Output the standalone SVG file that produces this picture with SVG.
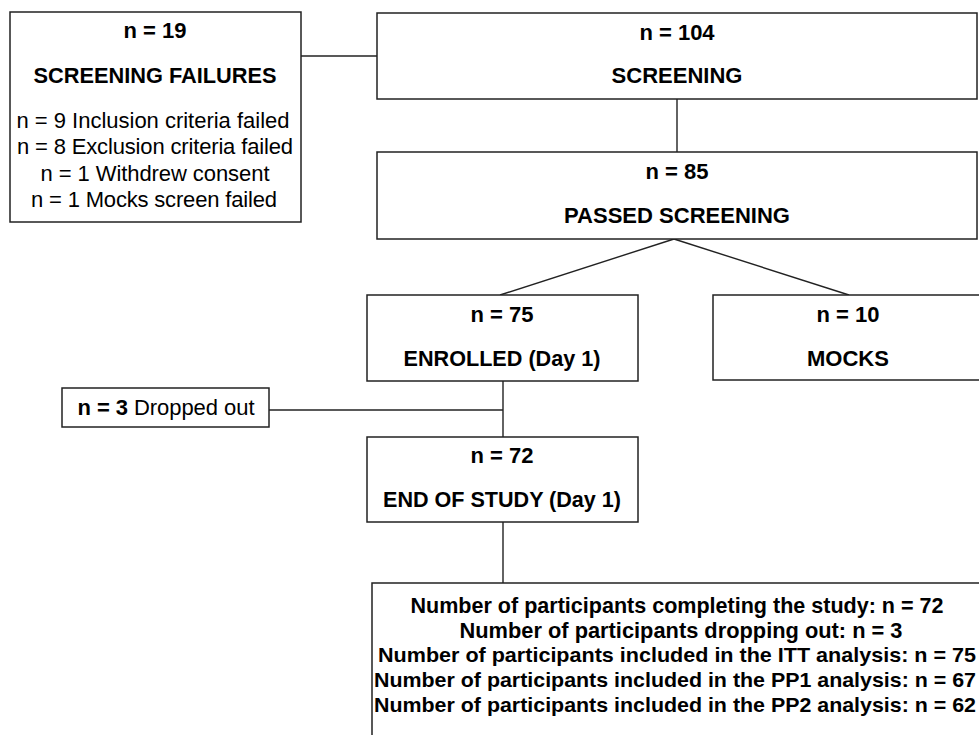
<svg xmlns="http://www.w3.org/2000/svg" width="979" height="735" viewBox="0 0 979 735">
<style>
.box{fill:#fff;stroke:#222;stroke-width:1.5}
.ln{stroke:#222;stroke-width:1.4;fill:none}
text{font-family:"Liberation Sans",Arial,sans-serif;font-size:22px;fill:#000;text-anchor:middle}
.b{font-weight:bold}
.s{font-size:21px}
</style>
<rect width="979" height="735" fill="#fff"/>
<g id="connectors">
<line class="ln" x1="301" y1="56" x2="377" y2="56"/>
<line class="ln" x1="677" y1="99" x2="677" y2="152"/>
<line class="ln" x1="674" y1="239" x2="500" y2="295"/>
<line class="ln" x1="674" y1="239" x2="849" y2="295"/>
<line class="ln" x1="503" y1="381" x2="503" y2="437"/>
<line class="ln" x1="269" y1="410" x2="503" y2="410"/>
<line class="ln" x1="503" y1="522" x2="503" y2="583"/>
</g>
<g id="screening-failures">
<rect class="box" x="10" y="12" width="291" height="210"/>
<text class="b" x="155" y="38">n = 19</text>
<text class="b" x="155" y="83" textLength="243" lengthAdjust="spacingAndGlyphs">SCREENING FAILURES</text>
<text x="153" y="128" textLength="273">n = 9 Inclusion criteria failed</text>
<text x="155" y="154" textLength="276">n = 8 Exclusion criteria failed</text>
<text x="155" y="181" textLength="229">n = 1 Withdrew consent</text>
<text x="154" y="207" textLength="246">n = 1 Mocks screen failed</text>
</g>
<g id="screening">
<rect class="box" x="377" y="13" width="600" height="86"/>
<text class="b" x="677" y="40">n = 104</text>
<text class="b" x="677" y="83">SCREENING</text>
</g>
<g id="passed-screening">
<rect class="box" x="377" y="152" width="600" height="87"/>
<text class="b" x="677" y="179">n = 85</text>
<text class="b" x="677" y="223" textLength="226" lengthAdjust="spacingAndGlyphs">PASSED SCREENING</text>
</g>
<g id="enrolled">
<rect class="box" x="367" y="295" width="271" height="86"/>
<text class="b" x="502" y="322">n = 75</text>
<text class="b" x="502" y="366" textLength="197" lengthAdjust="spacingAndGlyphs">ENROLLED (Day 1)</text>
</g>
<g id="mocks">
<rect class="box" x="713" y="295" width="275" height="85"/>
<text class="b" x="848" y="322">n = 10</text>
<text class="b" x="848" y="366">MOCKS</text>
</g>
<g id="dropped-out">
<rect class="box" x="62" y="388" width="207" height="39"/>
<text x="166" y="415" textLength="177"><tspan class="b">n = 3</tspan> Dropped out</text>
</g>
<g id="end-of-study">
<rect class="box" x="367" y="437" width="271" height="85"/>
<text class="b" x="502" y="463">n = 72</text>
<text class="b" x="502" y="507" textLength="238" lengthAdjust="spacingAndGlyphs">END OF STUDY (Day 1)</text>
</g>
<g id="summary">
<rect class="box" x="372" y="583" width="620" height="170"/>
<text class="b" x="677" y="613" textLength="533" lengthAdjust="spacingAndGlyphs">Number of participants completing the study: n = 72</text>
<text class="b" x="681" y="638" textLength="443" lengthAdjust="spacingAndGlyphs">Number of participants dropping out: n = 3</text>
<text class="b s" x="677" y="662" textLength="598" lengthAdjust="spacingAndGlyphs">Number of participants included in the ITT analysis: n = 75</text>
<text class="b s" x="675" y="687" textLength="602" lengthAdjust="spacingAndGlyphs">Number of participants included in the PP1 analysis: n = 67</text>
<text class="b s" x="675" y="712" textLength="602" lengthAdjust="spacingAndGlyphs">Number of participants included in the PP2 analysis: n = 62</text>
</g>
</svg>
